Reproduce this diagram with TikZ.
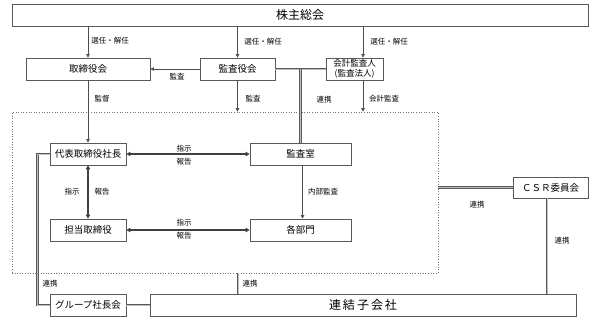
\documentclass[tikz,border=0pt]{standalone}
\usepackage{fontspec}
\setmainfont{Noto Sans CJK JP}
\usetikzlibrary{arrows.meta}
\begin{document}
\begin{tikzpicture}[x=1pt,y=-1pt,
  box/.style={draw=black!65, line width=0.8pt, fill=white, inner sep=0pt, align=center, font=\fontsize{9.5}{10.5}\selectfont},
  lbl/.style={font=\fontsize{7.5}{8}\selectfont, inner sep=0pt},
  arr/.style={draw=black!70, line width=0.6pt, -{Triangle[length=3.5pt,width=3.5pt]}},
  darr/.style={draw=black!75, line width=1.6pt, {Triangle[length=4pt,width=4.5pt]}-{Triangle[length=4pt,width=4.5pt]}},
  link/.style={draw=black!65, double=black!25, double distance=0.8pt, line width=0.8pt}]
\useasboundingbox (0,0) rectangle (601,327);

% boxes
\node[box, minimum width=576pt, minimum height=22pt, font=\fontsize{12}{13}\selectfont] (kabu) at (300,15) {株主総会};
\node[box, minimum width=124pt, minimum height=22pt] (tori) at (88,69) {取締役会};
\node[box, minimum width=75pt, minimum height=22pt] (kansa) at (237.5,69) {監査役会};
\node[box, minimum width=57pt, minimum height=22pt, font=\fontsize{8.5}{9.5}\selectfont] (kaikei) at (354.5,69) {会計監査人\\(監査法人)};

\node[draw=black!55, dotted, line width=0.6pt, minimum width=426pt, minimum height=161pt, inner sep=0pt] (naibu) at (225,192.5) {};

\node[box, minimum width=76pt, minimum height=22pt] (daihyo) at (88,154) {代表取締役社長};
\node[box, minimum width=101pt, minimum height=22pt] (kansashitsu) at (300.5,154) {監査室};
\node[box, minimum width=76pt, minimum height=22pt] (tanto) at (88,230) {担当取締役};
\node[box, minimum width=101pt, minimum height=22pt] (kakubu) at (300.5,230) {各部門};
\node[box, minimum width=75pt, minimum height=21pt] (csr) at (550.5,187.5) {ＣＳＲ委員会};
\node[box, minimum width=426pt, minimum height=22pt, font=\fontsize{12}{13}\selectfont] (renketsu) at (363,305) {連\,結\,子\,会\,社};
\node[box, minimum width=76pt, minimum height=22pt] (group) at (88,305) {グループ社長会};

% helper coordinates
\coordinate (kx) at (363,0);
\coordinate (rx) at (547,0);
\coordinate (bx) at (238,0);

% arrows from shareholders
\draw[arr] (kabu.south -| tori.north) -- (tori.north);
\draw[arr] (kabu.south -| kansa.north) -- (kansa.north);
\draw[arr] (kabu.south -| kx) -- (kaikei.north -| kx);
\node[lbl] (l1) at (110,41) {選任・解任};
\node[lbl] (l2) at (263,42) {選任・解任};
\node[lbl] (l3) at (389,42) {選任・解任};

\draw[arr] (kansa.west) -- (tori.east);
\node[lbl] (l4) at (177,77) {監査};

\draw[arr] (tori.south) -- (daihyo.north);
\node[lbl] (l5) at (102,99) {監督};

\draw[arr] (kansa.south) -- (naibu.north -| kansa.south);
\node[lbl] (l6) at (253,99) {監査};

\draw[arr] (kaikei.south -| kx) -- (naibu.north -| kx);
\node[lbl] (l7) at (384,99) {会計監査};

% links
\draw[link] (kansa.east) -- (kaikei.west);
\draw[link] (kansa.east -| kansashitsu.north) -- (kansashitsu.north);
\node[lbl] (l8) at (324,100) {連携};

% inner arrows
\draw[darr] (daihyo.east) -- (kansashitsu.west);
\node[lbl] (l9) at (184,149) {指示};
\node[lbl] (l10) at (184,162) {報告};

\draw[darr] (daihyo.south) -- (tanto.north);
\node[lbl] (l11) at (72,192) {指示};
\node[lbl] (l12) at (102,192) {報告};

\draw[darr] (tanto.east) -- (kakubu.west);
\node[lbl] (l13) at (184,223) {指示};
\node[lbl] (l14) at (184,236) {報告};

\draw[arr] ([xshift=2pt]kansashitsu.south) -- ([xshift=2pt]kakubu.north);
\node[lbl] (l15) at (323,192) {内部監査};

% CSR links
\draw[link] (csr.west -| naibu.east) -- (csr.west);
\node[lbl] (l16) at (477,205) {連携};
\draw[link] (csr.south -| rx) -- (renketsu.north -| rx);
\node[lbl] (l17) at (562,241) {連携};

% bottom links
\draw[link] (naibu.south -| bx) -- (renketsu.north -| bx);
\node[lbl] (l18) at (250,284) {連携};
\draw[link] (group.east) -- (renketsu.west);
\draw[link] (daihyo.west) -- ++(-12,0) |- (group.west);
\node[lbl] (l19) at (50,284) {連携};
\end{tikzpicture}
\end{document}
